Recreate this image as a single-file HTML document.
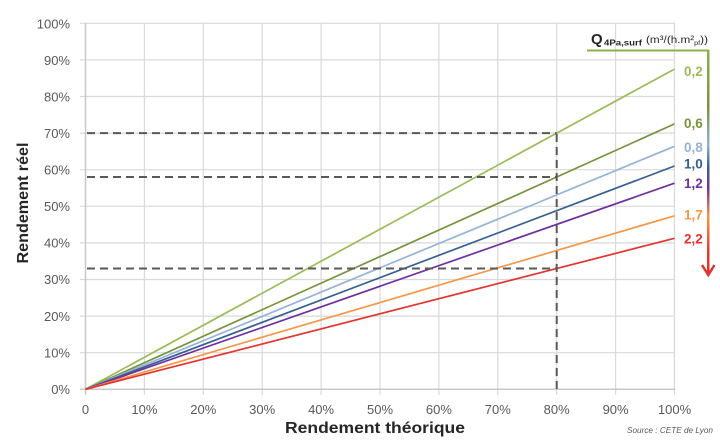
<!DOCTYPE html>
<html><head><meta charset="utf-8"><style>
html,body{margin:0;padding:0;background:#fff;}
svg{display:block;}
text{font-family:"Liberation Sans",sans-serif;}
</style></head><body>
<svg width="720" height="446" viewBox="0 0 720 446" xmlns="http://www.w3.org/2000/svg">
<defs>
<linearGradient id="g" gradientUnits="userSpaceOnUse" x1="0" y1="50" x2="0" y2="275">
<stop offset="0" stop-color="#8db04a"/>
<stop offset="0.25" stop-color="#77933c"/>
<stop offset="0.42" stop-color="#95b3d7"/>
<stop offset="0.52" stop-color="#376092"/>
<stop offset="0.61" stop-color="#7030a0"/>
<stop offset="0.74" stop-color="#f79646"/>
<stop offset="0.9" stop-color="#e3342f"/>
<stop offset="1" stop-color="#e3342f"/>
</linearGradient>
</defs>
<!-- grid -->
<g stroke="#d9d9d9" stroke-width="1.2">
<line x1="80" y1="23.3" x2="675" y2="23.3"/>
<line x1="80" y1="59.9" x2="675" y2="59.9"/>
<line x1="80" y1="96.5" x2="675" y2="96.5"/>
<line x1="80" y1="133.1" x2="675" y2="133.1"/>
<line x1="80" y1="169.7" x2="675" y2="169.7"/>
<line x1="80" y1="206.3" x2="675" y2="206.3"/>
<line x1="80" y1="242.9" x2="675" y2="242.9"/>
<line x1="80" y1="279.5" x2="675" y2="279.5"/>
<line x1="80" y1="316.1" x2="675" y2="316.1"/>
<line x1="80" y1="352.7" x2="675" y2="352.7"/>
<line x1="144.4" y1="23.3" x2="144.4" y2="395"/>
<line x1="203.3" y1="23.3" x2="203.3" y2="395"/>
<line x1="262.2" y1="23.3" x2="262.2" y2="395"/>
<line x1="321.1" y1="23.3" x2="321.1" y2="395"/>
<line x1="380" y1="23.3" x2="380" y2="395"/>
<line x1="438.9" y1="23.3" x2="438.9" y2="395"/>
<line x1="497.8" y1="23.3" x2="497.8" y2="395"/>
<line x1="556.7" y1="23.3" x2="556.7" y2="395"/>
<line x1="615.6" y1="23.3" x2="615.6" y2="395"/>
<line x1="674.5" y1="23.3" x2="674.5" y2="395"/>
</g>
<g stroke="#c8c8c8" stroke-width="1.5">
<line x1="85.5" y1="23" x2="85.5" y2="395"/>
<line x1="80" y1="389.3" x2="675" y2="389.3"/>
</g>
<!-- series -->
<g stroke-width="1.7" fill="none">
<line x1="85.5" y1="389.3" x2="674.5" y2="69.1" stroke="#9bbb59"/>
<line x1="85.5" y1="389.3" x2="674.5" y2="123.9" stroke="#77933c"/>
<line x1="85.5" y1="389.3" x2="674.5" y2="146.3" stroke="#95b3d7"/>
<line x1="85.5" y1="389.3" x2="674.5" y2="166.0" stroke="#376092"/>
<line x1="85.5" y1="389.3" x2="674.5" y2="183.2" stroke="#7030a0"/>
<line x1="85.5" y1="389.3" x2="674.5" y2="215.8" stroke="#f79646"/>
<line x1="85.5" y1="389.3" x2="674.5" y2="238.3" stroke="#e3342f"/>
</g>
<!-- dashed -->
<g stroke="#595959" stroke-width="2" stroke-dasharray="8 5" fill="none">
<line x1="87" y1="133.1" x2="556.7" y2="133.1"/>
<line x1="87" y1="177.0" x2="556.7" y2="177.0"/>
<line x1="87" y1="268.5" x2="556.7" y2="268.5"/>
<line x1="556.7" y1="134" x2="556.7" y2="389"/>
</g>
<!-- y tick labels -->
<g font-size="13" fill="#595959" text-anchor="end">
<text x="70" y="28.5">100%</text>
<text x="70" y="65">90%</text>
<text x="70" y="101.5">80%</text>
<text x="70" y="138">70%</text>
<text x="70" y="174.5">60%</text>
<text x="70" y="211">50%</text>
<text x="70" y="247.5">40%</text>
<text x="70" y="284">30%</text>
<text x="70" y="321">20%</text>
<text x="70" y="357.5">10%</text>
<text x="70" y="394">0%</text>
</g>
<!-- x tick labels -->
<g font-size="13" fill="#595959" text-anchor="middle">
<text x="85.5" y="414">0</text>
<text x="144.4" y="414">10%</text>
<text x="203.3" y="414">20%</text>
<text x="262.2" y="414">30%</text>
<text x="321.1" y="414">40%</text>
<text x="380" y="414">50%</text>
<text x="438.9" y="414">60%</text>
<text x="497.8" y="414">70%</text>
<text x="556.7" y="414">80%</text>
<text x="615.6" y="414">90%</text>
<text x="674.5" y="414">100%</text>
</g>
<!-- axis titles -->
<text x="375" y="433" font-size="16" font-weight="bold" fill="#262626" text-anchor="middle" textLength="180" lengthAdjust="spacingAndGlyphs">Rendement théorique</text>
<text transform="translate(28,203) rotate(-90)" font-size="16" font-weight="bold" fill="#262626" text-anchor="middle" textLength="121" lengthAdjust="spacingAndGlyphs">Rendement réel</text>
<!-- legend header -->
<text x="591" y="44" font-size="15" font-weight="bold" fill="#262626">Q</text>
<text x="604" y="45.5" font-size="8.5" font-weight="bold" fill="#262626" textLength="38" lengthAdjust="spacingAndGlyphs">4Pa,surf</text>
<text x="646" y="43" font-size="10.5" fill="#262626" textLength="62" lengthAdjust="spacingAndGlyphs">(m³/(h.m²<tspan font-size="6.5" dy="2">pf</tspan><tspan dy="-2">))</tspan></text>
<line x1="587" y1="50.5" x2="709" y2="50.5" stroke="#8db04a" stroke-width="2"/>
<rect x="707" y="50" width="2.5" height="224" fill="url(#g)"/>
<polyline points="702,265 708.3,275 714.5,265" fill="none" stroke="#e3342f" stroke-width="2.5" stroke-linejoin="miter"/>
<!-- series labels -->
<g font-size="13.5" font-weight="bold">
<text x="684" y="76" fill="#9bbb59">0,2</text>
<text x="684" y="128" fill="#77933c">0,6</text>
<text x="684" y="152" fill="#95b3d7">0,8</text>
<text x="684" y="168.5" fill="#376092">1,0</text>
<text x="684" y="188" fill="#7030a0">1,2</text>
<text x="684" y="219.5" fill="#f79646">1,7</text>
<text x="684" y="243.5" fill="#e3342f">2,2</text>
</g>
<text x="713" y="433" font-size="8" font-style="italic" fill="#595959" text-anchor="end" textLength="86" lengthAdjust="spacingAndGlyphs">Source : CETE de Lyon</text>
</svg>
</body></html>
